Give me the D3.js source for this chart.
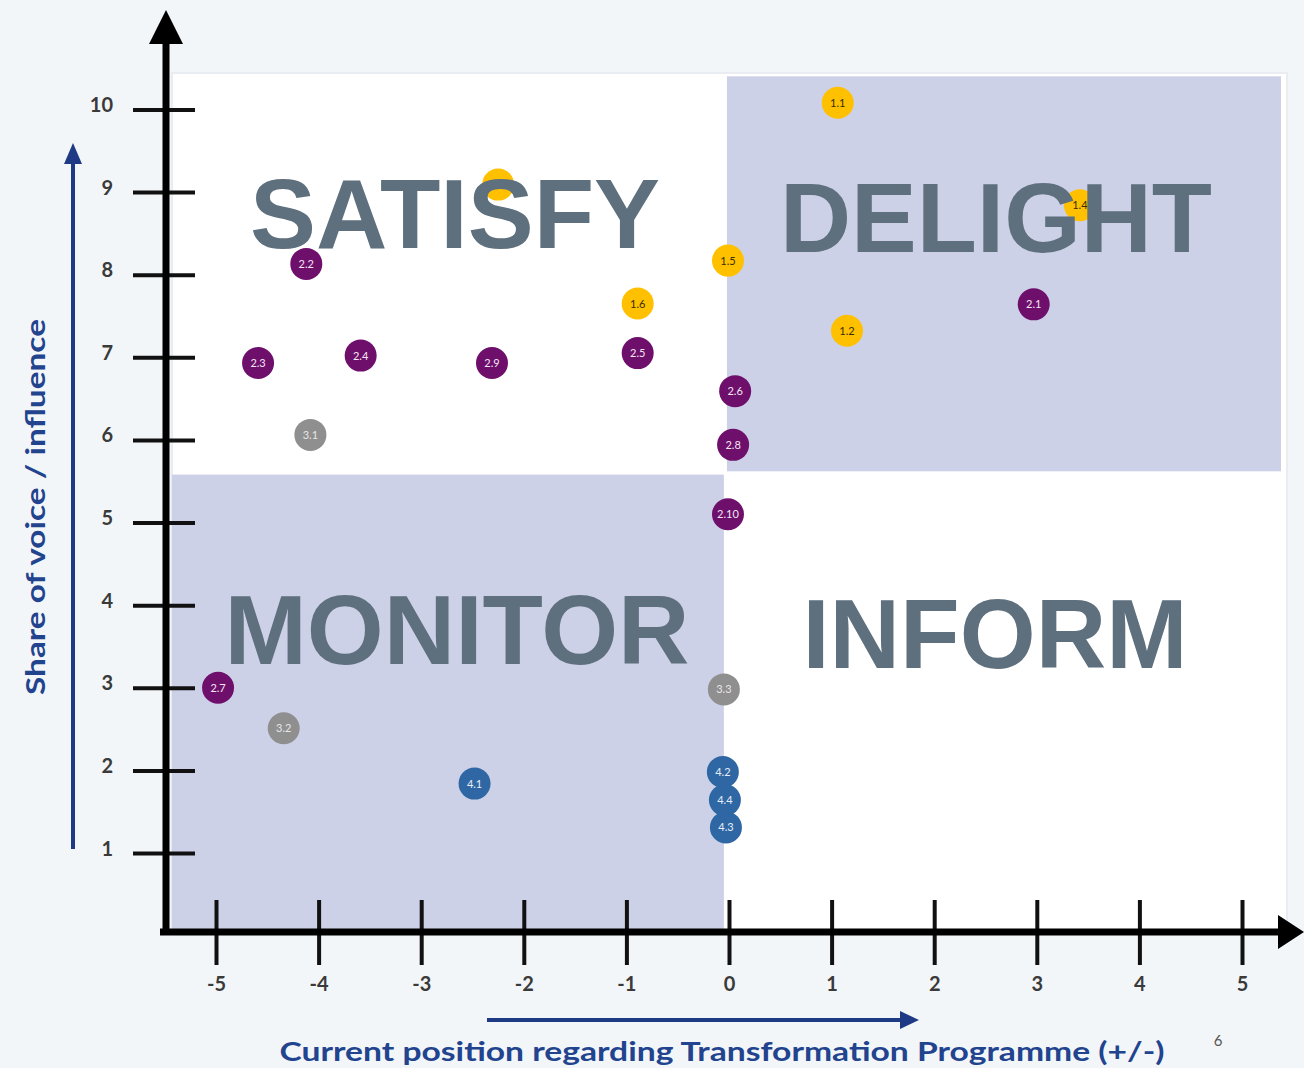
<!DOCTYPE html>
<html>
<head>
<meta charset="utf-8">
<script src="https://cdn.jsdelivr.net/npm/d3@7"></script>
<style>
  html, body { margin: 0; padding: 0; background: #f3f6f9; }
  svg { display: block; }
</style>
</head>
<body>
<svg id="chart" width="1304" height="1068"></svg>
<script>
// ---- data ----
const xTicks = [-5, -4, -3, -2, -1, 0, 1, 2, 3, 4, 5];
const yTicks = [1, 2, 3, 4, 5, 6, 7, 8, 9, 10];

const pointLabels = ["1.1", "1.2", "1.3", "1.4", "1.5", "1.6",
                     "2.1", "2.2", "2.3", "2.4", "2.5", "2.6", "2.7", "2.8", "2.9", "2.10",
                     "3.1", "3.2", "3.3",
                     "4.1", "4.2", "4.3", "4.4"];
const pointX = [1.06, 1.15, -2.25, 3.42, -0.01, -0.89,
                2.97, -4.12, -4.59, -3.59, -0.89, 0.06, -4.98, 0.04, -2.31, -0.01,
                -4.08, -4.34, -0.05,
                -2.48, -0.06, -0.03, -0.04];
const pointY = [10.08, 7.32, 9.09, 8.84, 8.17, 7.65,
                7.64, 8.13, 6.93, 7.02, 7.05, 6.59, 3.0, 5.94, 6.93, 5.10,
                6.06, 2.51, 2.98,
                1.84, 1.98, 1.31, 1.64];
const pointGroup = ["1", "1", "1", "1", "1", "1",
                    "2", "2", "2", "2", "2", "2", "2", "2", "2", "2",
                    "3", "3", "3",
                    "4", "4", "4", "4"];

const quadrantNames = ["SATISFY", "DELIGHT", "MONITOR", "INFORM"];
const shadedX0 = [-0.02, -5.43];
const shadedX1 = [5.38, -0.05];
const shadedY0 = [5.62, 0.06];
const shadedY1 = [10.40, 5.58];

const xTitle = "Current position regarding Transformation Programme (+/-)";
const yTitle = "Share of voice / influence";

// ---- setup ----
const svg = d3.select("#chart");
const x = d3.scaleLinear().domain([-5, 5]).range([216, 1242]);
const y = d3.scaleLinear().domain([1, 9]).range([853, 192]);

const groupFill = d3.scaleOrdinal().domain(["1", "2", "3", "4"])
  .range(["#ffc000", "#6e0f6c", "#8f8f8f", "#2e67a3"]);
const groupText = d3.scaleOrdinal().domain(["1", "2", "3", "4"])
  .range(["#3a2e00", "#f2e6f2", "#e6e6e6", "#e8eef7"]);

// white panel
svg.append("rect").attr("x", 172).attr("y", 73).attr("width", 1115).attr("height", 857)
  .attr("fill", "#ffffff").attr("stroke", "#e9edf1").attr("stroke-width", 2);

// shaded quadrants
svg.append("g").selectAll("rect").data(shadedX0).join("rect")
  .attr("x", (d, i) => x(shadedX0[i]))
  .attr("width", (d, i) => x(shadedX1[i]) - x(shadedX0[i]))
  .attr("y", (d, i) => y(shadedY1[i]))
  .attr("height", (d, i) => y(shadedY0[i]) - y(shadedY1[i]))
  .attr("fill", "#cdd1e8");

// points
const pts = pointLabels.map((l, i) => ({ label: l, x: pointX[i], y: pointY[i], g: pointGroup[i] }));
const pg = svg.append("g").selectAll("g").data(pts).join("g")
  .attr("transform", d => `translate(${x(d.x)},${y(d.y)})`);
pg.append("circle").attr("r", 16).attr("fill", d => groupFill(d.g));
pg.append("text").text(d => d.label)
  .attr("text-anchor", "middle").attr("dy", "0.36em")
  .attr("font-family", "Lato, 'Open Sans', sans-serif").attr("font-size", 11)
  .attr("fill", d => groupText(d.g));

// quadrant labels
const qPos = [[455, 248], [996, 252], [457, 664], [995, 668]];
const qLen = [410, 432, 465, 385];
svg.append("g").selectAll("text").data(quadrantNames).join("text")
  .text(d => d)
  .attr("x", (d, i) => qPos[i][0]).attr("y", (d, i) => qPos[i][1])
  .attr("text-anchor", "middle")
  .attr("font-family", "'Liberation Sans', Arial, sans-serif")
  .attr("font-weight", "bold").attr("font-size", 98)
  .attr("textLength", (d, i) => qLen[i]).attr("lengthAdjust", "spacingAndGlyphs")
  .attr("fill", "#5e6f7e");

// y axis ticks + labels
const yAxis = d3.axisLeft(y).tickValues(yTicks).tickSize(62).tickPadding(20).tickFormat(d3.format("d"));
const gy = svg.append("g").attr("transform", "translate(195,0)").call(yAxis);
gy.select(".domain").remove();
gy.selectAll(".tick line").attr("stroke", "#111").attr("stroke-width", 4);
gy.selectAll(".tick text").attr("font-family", "Lato, 'Open Sans', sans-serif")
  .attr("font-weight", "bold").attr("font-size", 20).attr("fill", "#3a3a3a").attr("dy", "0.1em");

// x axis ticks + labels
const xAxis = d3.axisBottom(x).tickValues(xTicks).tickSize(65).tickPadding(12).tickFormat(d3.format("d"));
const gx = svg.append("g").attr("transform", "translate(0,900)").call(xAxis);
gx.select(".domain").remove();
gx.selectAll(".tick line").attr("stroke", "#111").attr("stroke-width", 4);
gx.selectAll(".tick text").attr("font-family", "Lato, 'Open Sans', sans-serif")
  .attr("font-weight", "bold").attr("font-size", 20).attr("fill", "#3a3a3a")
  .text(d => d < 0 ? "-" + Math.abs(d) : d);

// main axis lines with arrowheads
svg.append("line").attr("x1", 166).attr("x2", 166).attr("y1", 935).attr("y2", 38)
  .attr("stroke", "#000").attr("stroke-width", 7);
svg.append("path").attr("d", "M149,44 L183,44 L166,10 Z").attr("fill", "#000");
svg.append("line").attr("x1", 160).attr("x2", 1282).attr("y1", 932).attr("y2", 932)
  .attr("stroke", "#000").attr("stroke-width", 7);
svg.append("path").attr("d", "M1278,915 L1278,949 L1304,932 Z").attr("fill", "#000");

// blue direction arrows
const blue = "#1e3a84";
svg.append("line").attr("x1", 73).attr("x2", 73).attr("y1", 849).attr("y2", 160)
  .attr("stroke", blue).attr("stroke-width", 4);
svg.append("path").attr("d", "M64,164 L82,164 L73,143 Z").attr("fill", blue);
svg.append("line").attr("x1", 487).attr("x2", 904).attr("y1", 1020).attr("y2", 1020)
  .attr("stroke", blue).attr("stroke-width", 4);
svg.append("path").attr("d", "M900,1011 L900,1029 L919,1020 Z").attr("fill", blue);

// titles
svg.append("text").text(xTitle)
  .attr("x", 722).attr("y", 1061).attr("text-anchor", "middle")
  .attr("font-family", "Lato, 'Open Sans', sans-serif").attr("font-weight", "bold")
  .attr("font-size", 27).attr("fill", "#22438e")
  .attr("textLength", 885).attr("lengthAdjust", "spacingAndGlyphs");
svg.append("text").text(yTitle)
  .attr("transform", "translate(45,507) rotate(-90)").attr("text-anchor", "middle")
  .attr("font-family", "Lato, 'Open Sans', sans-serif").attr("font-weight", "bold")
  .attr("font-size", 27).attr("fill", "#22438e")
  .attr("textLength", 376).attr("lengthAdjust", "spacingAndGlyphs");

svg.append("text").text("6").attr("x", 1218).attr("y", 1046).attr("text-anchor", "middle")
  .attr("font-family", "Lato, sans-serif").attr("font-size", 15).attr("fill", "#555");
</script>
</body>
</html>
